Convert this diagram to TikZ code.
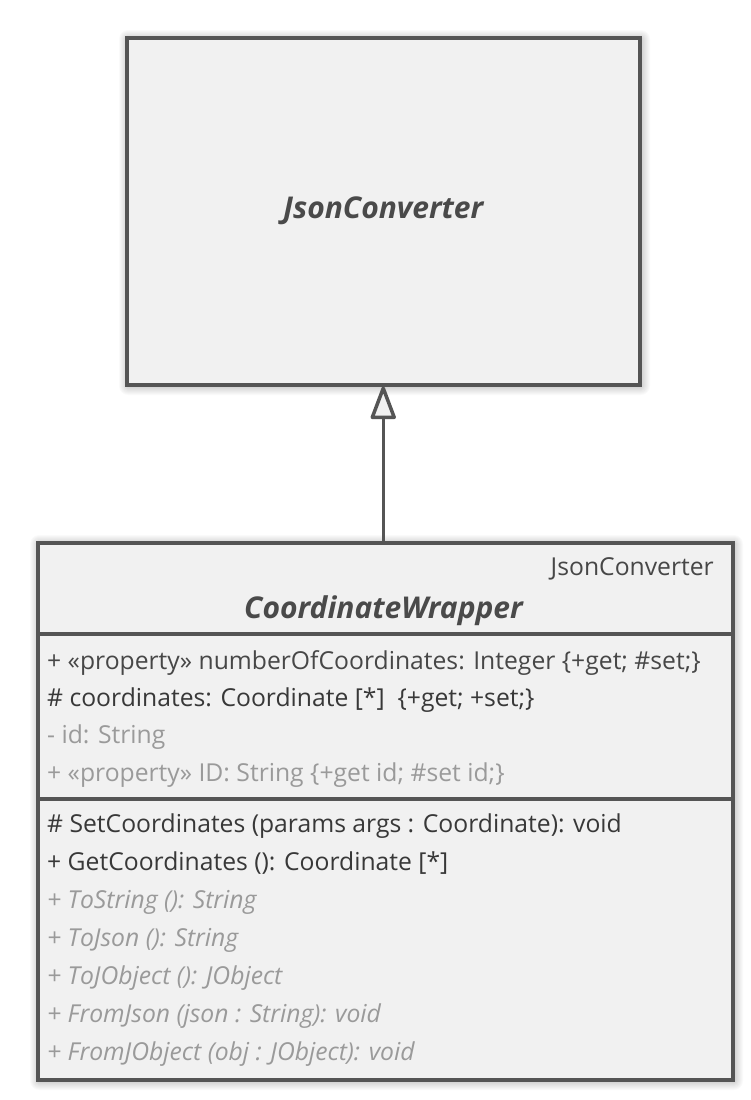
\documentclass[tikz,border=0pt]{standalone}
\usepackage{fontspec}
\setmainfont{Open Sans}
\usetikzlibrary{arrows.meta}
\definecolor{bordc}{HTML}{555555}
\definecolor{boxfill}{HTML}{F1F1F1}
\definecolor{darktxt}{HTML}{383838}
\definecolor{midtxt}{HTML}{474747}
\definecolor{lighttxt}{HTML}{9A9A9A}
\definecolor{titletxt}{HTML}{4A4A4A}
\begin{document}
\begin{tikzpicture}[x=1pt,y=-1pt,
  classbox/.style={draw=bordc, fill=boxfill, line width=3.5pt, rectangle, inner sep=0pt, anchor=north west},
  member/.style={anchor=base west, inner sep=0pt, font=\fontsize{24.7}{29}\selectfont},
  dark/.style={member, text=darktxt},
  mid/.style={member, text=midtxt},
  light/.style={member, text=lighttxt},
  lightit/.style={member, text=lighttxt, font=\fontsize{24.7}{29}\selectfont\itshape},
  title/.style={inner sep=0pt, text=titletxt, font=\fontsize{30}{36}\selectfont\bfseries\itshape},
  sep/.style={draw=bordc, line width=3.5pt},
  shade/.style={fill=black, opacity=0.018}
]
\useasboundingbox[fill=white] (0,0) rectangle (750,1100);
% soft shadows
\foreach \i in {1,...,9}{
  \fill[shade, rounded corners=\i pt] (128-\i,39-\i) rectangle (641+\i,386+\i);
  \fill[shade, rounded corners=\i pt] (39-\i,544-\i) rectangle (734+\i,1081+\i);
}
% boxes
\node[classbox, minimum width=513pt, minimum height=347pt] (jc) at (125,36) {};
\node[title] (jcname) at (jc.center) {JsonConverter};
\node[classbox, minimum width=695pt, minimum height=537pt] (cw) at (36,541) {};
\coordinate (s1) at (36,634);
\coordinate (s2) at (36,799);
\draw[sep] (s1) -- (s1 -| cw.east);
\draw[sep] (s2) -- (s2 -| cw.east);
% header
\node[member, anchor=base east, text=midtxt] (stereo) at (714,575) {JsonConverter};
\node[title, anchor=base] (cwname) at (383.5,618) {CoordinateWrapper};
% attributes
\node[mid] (a1) at (47,669) {+ «property» numberOfCoordinates: Integer \{+get; \#set;\}};
\node[dark] (a2) at (47,706) {\# coordinates: Coordinate [*]\ \ \{+get; +set;\}};
\node[light] (a3) at (47,743) {- id: String};
\node[light] (a4) at (47,781) {+ «property» ID: String \{+get id; \#set id;\}};
% methods
\node[dark] (m1) at (47,832) {\# SetCoordinates (params args : Coordinate): void};
\node[dark] (m2) at (47,870) {+ GetCoordinates (): Coordinate [*]};
\node[lightit] (m3) at (47,908) {+ ToString (): String};
\node[lightit] (m4) at (47,946) {+ ToJson (): String};
\node[lightit] (m5) at (47,984) {+ ToJObject (): JObject};
\node[lightit] (m6) at (47,1022) {+ FromJson (json : String): void};
\node[lightit] (m7) at (47,1060) {+ FromJObject (obj : JObject): void};
% generalization
\draw[draw=bordc, line width=3.5pt, line join=round,
  -{Triangle[open, fill=boxfill, length=36pt, width=26pt, line join=round]}]
  (jc.south |- cw.north) -- (jc.south);
\end{tikzpicture}
\end{document}
